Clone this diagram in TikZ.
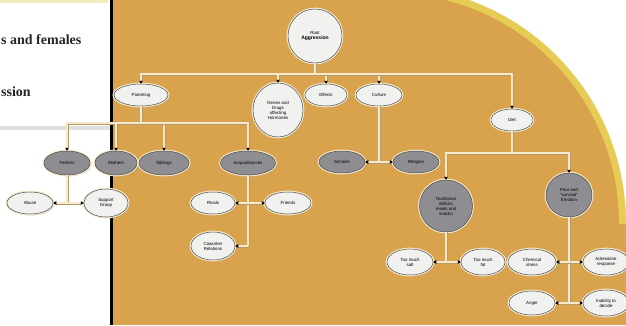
\documentclass[tikz,border=0pt]{standalone}
\usepackage{fontspec}
\setmainfont{Liberation Serif}
\newfontfamily\chartfont{Liberation Sans}
\usetikzlibrary{arrows.meta,shapes.geometric,shadows}
\definecolor{orangebg}{HTML}{D9A24C}
\definecolor{bandyellow}{HTML}{E6CC55}
\definecolor{cream}{HTML}{F4E9CC}
\definecolor{linebrown}{HTML}{B89A66}
\definecolor{edgegray}{HTML}{4A4A4A}
\definecolor{leafwhite}{HTML}{F1F1EF}
\definecolor{midgray}{HTML}{8E8E92}
\definecolor{papertop}{HTML}{F3EABF}
\tikzset{
  leaf/.style={ellipse,inner sep=0pt,drop shadow={opacity=0.3,shadow xshift=1.5pt,shadow yshift=-1.5pt},preaction={draw=cream,line width=2.8pt},draw=edgegray,line width=0.5pt,fill=leafwhite,font=\chartfont\fontsize{4.4}{5}\selectfont,text=black,align=center},
  darkleaf/.style={leaf,fill=midgray},
  conn/.style={draw=cream,line width=2.2pt,preaction={draw=linebrown,line width=3pt}},
  pointer/.style={-{Latex[length=3pt,width=3.6pt,black]}},
  pagetext/.style={anchor=west,inner sep=0pt,font=\bfseries\fontsize{14}{16}\selectfont,text=black!85}
}

\begin{document}
\begin{tikzpicture}[x=1pt,y=-1pt]
\useasboundingbox (0,0) rectangle (626,325);
% page and backdrop
\fill[white] (0,0) rectangle (110,325);
\fill[papertop] (0,0) rectangle (108,2.5);
\fill[black!12] (0,126) rectangle (110,130);
\fill[orangebg] (112.5,0) rectangle (626,325);
\draw[black,line width=3pt] (111,0)--(111,325);
\begin{scope}
\clip (380,0) rectangle (626,223);
\draw[bandyellow,line width=14pt] (389,223) circle[radius=237];
\fill[white,even odd rule] (389,223) circle[radius=237] (370,-20) rectangle (640,320);
\end{scope}
\node[pagetext] (txtA) at (1,40) {s and females};
\node[pagetext] (txtB) at (1,92) {ssion};

% top
\node[leaf,circle,minimum size=54pt] (root) at (315,36) {Root\\{\bfseries\fontsize{5}{5.6}\selectfont Aggression}};
\node[leaf,minimum width=54pt,minimum height=22pt] (parent) at (141,95) {Parenting};
\node[leaf,minimum width=50pt,minimum height=54pt] (genes) at (278,110) {Genes and\\Drugs\\affecting\\Hormones};
\node[leaf,minimum width=42pt,minimum height=22pt] (effects) at (326,95) {Effects};
\node[leaf,minimum width=46pt,minimum height=22pt] (culture) at (379,95) {Culture};
\node[leaf,minimum width=42pt,minimum height=22pt] (diet) at (512,120) {Diet};
% parenting
\node[darkleaf,minimum width=46pt,minimum height=24pt] (fathers) at (67,163) {Fathers};
\node[darkleaf,minimum width=42pt,minimum height=24pt] (mothers) at (116,163) {Mothers};
\node[darkleaf,minimum width=50pt,minimum height=24pt] (siblings) at (164,163) {Siblings};
\node[darkleaf,minimum width=55pt,minimum height=24pt] (acq) at (248,163) {Acquaintances};
\node[leaf,minimum width=46pt,minimum height=22pt] (abuse) at (30,203) {Abuse};
\node[leaf,minimum width=44pt,minimum height=28pt] (support) at (106,203) {Support\\Group};
\node[leaf,minimum width=44pt,minimum height=22pt] (rivals) at (213,203) {Rivals};
\node[leaf,minimum width=46pt,minimum height=22pt] (friends) at (288,203) {Friends};
\node[leaf,minimum width=44pt,minimum height=28pt] (cowork) at (213,246) {Coworker\\Relations};
% culture
\node[darkleaf,minimum width=46pt,minimum height=22pt] (schools) at (342,162) {Schools};
\node[darkleaf,minimum width=46pt,minimum height=22pt] (religion) at (416,162) {Religion};
% diet
\node[darkleaf,minimum width=53pt,minimum height=52pt] (nutri) at (446,206) {Nutritional\\deficits\\meals and\\snacks};
\node[darkleaf,minimum width=46pt,minimum height=44pt] (fear) at (569,195) {Fear and\\“survival”\\Emotion};
\node[leaf,minimum width=46pt,minimum height=26pt] (salt) at (410,262) {Too much\\salt};
\node[leaf,minimum width=44pt,minimum height=26pt] (fat) at (483,262) {Too much\\fat};
\node[leaf,minimum width=48pt,minimum height=26pt] (chem) at (532,262) {Chemical\\stress};
\node[leaf,minimum width=46pt,minimum height=26pt] (adren) at (606,262) {Adrenaline\\response};
\node[leaf,minimum width=46pt,minimum height=24pt] (anger) at (532,303) {Anger};
\node[leaf,minimum width=46pt,minimum height=26pt] (unable) at (606,303) {Inability to\\decide};

% connectors
\coordinate (bus1) at (315,74); \coordinate (bus2) at (141,123); \coordinate (bus3) at (512,153);
\draw[conn] (root)--(bus1);
\foreach \n in {parent,genes,effects,culture,diet} \draw[conn,pointer] (bus1) -| (\n);
\draw[conn] (parent)--(bus2);
\foreach \n in {fathers,mothers,siblings,acq} \draw[conn,pointer] (bus2) -| (\n);
\coordinate (j1) at (67,203); \draw[conn] (fathers)--(j1);
\draw[conn,pointer] (j1)--(abuse); \draw[conn,pointer] (j1)--(support);
\coordinate (j2) at (248,203); \coordinate (j3) at (248,246); \draw[conn] (acq)--(j3);
\draw[conn,pointer] (j2)--(rivals); \draw[conn,pointer] (j2)--(friends); \draw[conn,pointer] (j3)--(cowork);
\coordinate (j4) at (379,162); \draw[conn] (culture)--(j4);
\draw[conn,pointer] (j4)--(schools); \draw[conn,pointer] (j4)--(religion);
\draw[conn] (diet)--(bus3);
\draw[conn,pointer] (bus3) -| (nutri); \draw[conn,pointer] (bus3) -| (fear);
\coordinate (j5) at (446,262); \draw[conn] (nutri)--(j5);
\draw[conn,pointer] (j5)--(salt); \draw[conn,pointer] (j5)--(fat);
\coordinate (j6) at (569,262); \coordinate (j7) at (569,303); \draw[conn] (fear)--(j7);
\draw[conn,pointer] (j6)--(chem); \draw[conn,pointer] (j6)--(adren);
\draw[conn,pointer] (j7)--(anger); \draw[conn,pointer] (j7)--(unable);
\end{tikzpicture}
\end{document}
